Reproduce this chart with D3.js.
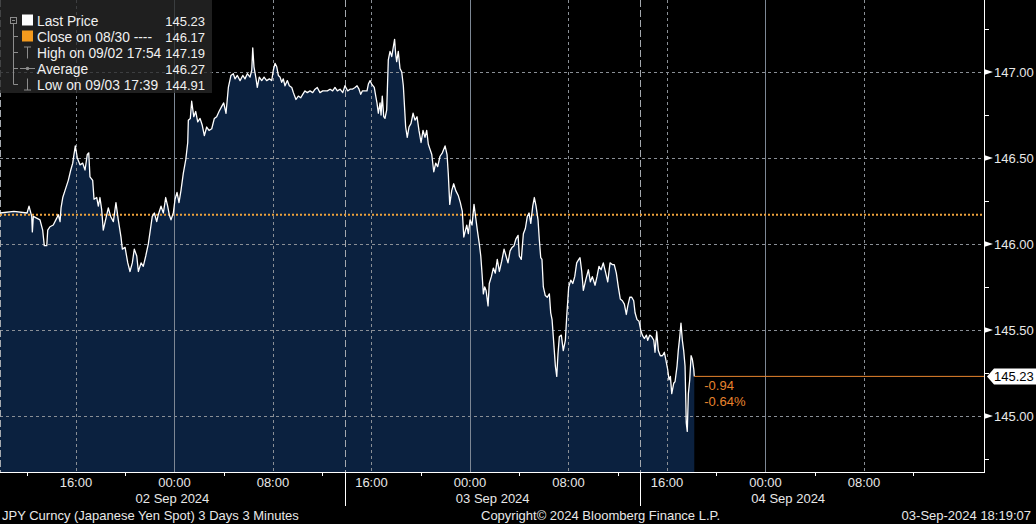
<!DOCTYPE html>
<html lang="en">
<head>
  <meta charset="UTF-8">
  <title>JPY Curncy - 3 Days</title>
  <script src="https://d3js.org/d3.v7.min.js"></script>
  <style>
    html, body { margin: 0; padding: 0; background: #000; overflow: hidden; }
    svg { display: block; font-family: "Liberation Sans", Arial, sans-serif; }
  </style>
</head>
<body>
  <div id="chart"></div>

  <script>
    // hours since 01 Sep 2024 00:00, 3 minute bars (sampled)
    const hours = [
      9.83, 10.97, 12.03, 12.19, 12.41, 12.46, 12.54, 12.81, 13.08, 13.30, 13.43, 13.63, 13.71, 13.89, 14.16, 14.44,
      14.57, 14.71, 14.79, 14.93, 15.11, 15.38, 15.58, 15.74, 15.84, 15.95, 16.11, 16.33, 16.55, 16.74, 16.92, 17.04,
      17.14, 17.36, 17.47, 17.69, 17.82, 17.95, 18.09, 18.22, 18.44, 18.63, 18.82, 19.04, 19.25, 19.44, 19.66, 19.77,
      19.99, 20.21, 20.39, 20.58, 20.74, 20.94, 21.07, 21.29, 21.47, 21.67, 21.88, 22.02, 22.20, 22.37, 22.56, 22.69,
      22.91, 23.10, 23.29, 23.45, 23.58, 23.72, 23.91, 24.05, 24.21, 24.37, 24.53, 24.72, 24.92, 25.08, 25.13, 25.29,
      25.40, 25.57, 25.73, 25.89, 26.08, 26.26, 26.43, 26.62, 26.81, 27.03, 27.24, 27.43, 27.62, 27.84, 28.00, 28.19,
      28.38, 28.59, 28.78, 28.92, 29.11, 29.33, 29.55, 29.73, 29.92, 30.14, 30.28, 30.36, 30.46, 30.63, 30.73, 30.89,
      31.09, 31.28, 31.49, 31.71, 31.90, 32.03, 32.17, 32.31, 32.44, 32.58, 32.71, 32.84, 32.98, 33.17, 33.33, 33.53,
      33.66, 33.87, 34.06, 34.26, 34.42, 34.60, 34.79, 35.01, 35.23, 35.42, 35.60, 35.82, 36.04, 36.23, 36.42, 36.64,
      36.85, 37.04, 37.23, 37.45, 37.67, 37.85, 38.07, 38.26, 38.45, 38.67, 38.83, 38.99, 39.13, 39.26, 39.48, 39.64,
      39.75, 39.89, 40.02, 40.23, 40.35, 40.45, 40.56, 40.70, 40.78, 40.88, 41.00, 41.10, 41.24, 41.37, 41.51, 41.65,
      41.88, 41.96, 42.05, 42.18, 42.32, 42.46, 42.59, 42.67, 42.78, 42.91, 43.05, 43.21, 43.38, 43.54, 43.70, 43.86,
      44.03, 44.19, 44.35, 44.49, 44.62, 44.76, 44.90, 45.06, 45.22, 45.38, 45.57, 45.76, 45.98, 46.14, 46.24, 46.36,
      46.52, 46.68, 46.85, 47.06, 47.22, 47.38, 47.50, 47.74, 47.87, 48.01, 48.17, 48.33, 48.44, 48.60, 48.76, 48.88,
      48.98, 49.09, 49.20, 49.31, 49.47, 49.57, 49.74, 49.90, 50.06, 50.22, 50.39, 50.58, 50.77, 50.93, 51.09, 51.26,
      51.42, 51.58, 51.74, 51.91, 52.01, 52.17, 52.34, 52.50, 52.66, 52.80, 52.94, 53.10, 53.23, 53.37, 53.53, 53.64,
      53.75, 53.85, 53.96, 54.12, 54.28, 54.45, 54.56, 54.67, 54.83, 54.94, 55.05, 55.15, 55.26, 55.42, 55.58, 55.75,
      55.86, 56.02, 56.19, 56.35, 56.51, 56.67, 56.84, 56.94, 57.08, 57.21, 57.40, 57.62, 57.78, 57.94, 58.16, 58.32,
      58.48, 58.65, 58.83, 59.03, 59.19, 59.38, 59.56, 59.72, 59.89, 60.05, 60.21, 60.38, 60.54, 60.70, 60.82, 60.98,
      61.14, 61.30, 61.41, 61.57, 61.73, 61.87, 62.00, 62.16, 62.33, 62.44, 62.60, 62.77, 62.93, 63.03, 63.17, 63.30,
      63.46, 63.63, 63.79, 63.90, 64.06, 64.17, 64.28, 64.39, 64.55, 64.66, 64.82, 64.92, 65.04, 65.14, 65.25, 65.36,
      65.47, 65.57, 65.65, 65.74, 65.85, 65.96, 66.06, 66.18, 66.22
    ];
    const prices = [
      146.18, 146.19, 146.18, 146.22, 146.16, 146.07, 146.16, 146.15, 146.14, 146.08, 145.99, 145.99, 146.08, 146.10, 146.11, 146.15,
      146.17, 146.13, 146.21, 146.27, 146.31, 146.37, 146.43, 146.47, 146.52, 146.57, 146.50, 146.46, 146.47, 146.43, 146.52, 146.53,
      146.39, 146.37, 146.26, 146.27, 146.22, 146.27, 146.20, 146.08, 146.15, 146.21, 146.16, 146.13, 146.24, 146.14, 146.04, 145.97,
      145.98, 145.89, 145.84, 145.89, 145.97, 145.93, 145.84, 145.89, 145.87, 145.93, 146.00, 146.07, 146.16, 146.18, 146.13, 146.17,
      146.22, 146.18, 146.27, 146.22, 146.17, 146.14, 146.18, 146.26, 146.30, 146.24, 146.31, 146.41, 146.49, 146.59, 146.72, 146.73,
      146.83, 146.74, 146.77, 146.71, 146.73, 146.69, 146.63, 146.68, 146.66, 146.67, 146.73, 146.74, 146.77, 146.80, 146.82, 146.76,
      146.91, 146.98, 146.99, 146.96, 146.98, 146.95, 146.98, 146.96, 146.99, 146.97, 147.01, 147.14, 147.03, 146.96, 146.91, 146.97,
      146.95, 146.97, 146.95, 146.96, 146.95, 147.01, 147.05, 147.03, 146.98, 146.97, 146.94, 146.96, 146.92, 146.95, 146.92, 146.91,
      146.88, 146.84, 146.86, 146.85, 146.87, 146.89, 146.88, 146.89, 146.88, 146.90, 146.91, 146.88, 146.89, 146.89, 146.89, 146.90,
      146.89, 146.91, 146.89, 146.90, 146.88, 146.92, 146.89, 146.90, 146.90, 146.91, 146.92, 146.90, 146.87, 146.89, 146.89, 146.89,
      146.93, 146.95, 146.93, 146.91, 146.86, 146.82, 146.76, 146.82, 146.75, 146.86, 146.74, 146.73, 146.78, 147.07, 147.12, 147.09,
      147.19, 147.11, 147.06, 147.12, 147.02, 147.00, 146.92, 146.82, 146.68, 146.62, 146.68, 146.70, 146.76, 146.72, 146.74, 146.66,
      146.59, 146.66, 146.62, 146.66, 146.58, 146.55, 146.52, 146.42, 146.47, 146.45, 146.51, 146.53, 146.57, 146.52, 146.41, 146.23,
      146.31, 146.35, 146.31, 146.28, 146.24, 146.19, 146.04, 146.11, 146.06, 146.14, 146.11, 146.23, 146.17, 146.08, 146.00, 145.93,
      145.83, 145.71, 145.75, 145.73, 145.64, 145.77, 145.81, 145.86, 145.83, 145.91, 145.84, 145.90, 145.97, 145.93, 145.89, 145.96,
      145.98, 145.99, 146.03, 146.05, 145.93, 145.91, 146.06, 146.09, 146.16, 146.18, 146.12, 146.22, 146.27, 146.22, 146.14, 146.02,
      145.92, 145.91, 145.75, 145.70, 145.69, 145.71, 145.60, 145.56, 145.40, 145.29, 145.23, 145.36, 145.46, 145.47, 145.38, 145.44,
      145.58, 145.75, 145.79, 145.77, 145.81, 145.89, 145.91, 145.92, 145.84, 145.73, 145.79, 145.85, 145.78, 145.81, 145.76, 145.81,
      145.87, 145.85, 145.89, 145.83, 145.78, 145.89, 145.88, 145.88, 145.83, 145.75, 145.68, 145.67, 145.65, 145.59, 145.64, 145.69,
      145.69, 145.67, 145.60, 145.56, 145.55, 145.50, 145.47, 145.45, 145.47, 145.44, 145.47, 145.46, 145.44, 145.37, 145.49, 145.38,
      145.35, 145.35, 145.37, 145.33, 145.27, 145.21, 145.23, 145.13, 145.19, 145.20, 145.29, 145.38, 145.46, 145.54, 145.44, 145.38,
      145.29, 144.96, 144.91, 145.13, 145.21, 145.35, 145.33, 145.27, 145.23
    ];

    const closePrice = 146.17;
    const lastPrice = 145.23;
    const netChange = -0.94;
    const pctChange = -0.64;

    const yTicks = [145.0, 145.5, 146.0, 146.5, 147.0];
    const yMinorTicks = [144.75, 145.25, 145.75, 146.25, 146.75, 147.25];
    const xTicks = [16, 24, 32, 40, 48, 56, 64, 72, 80];
    const xMinorTicks = [12, 20, 28, 36, 44, 52, 60, 68, 76, 84];
    const dayBreaks = [9.83, 37.85, 61.85];
    const dayLabels = ['02 Sep 2024', '03 Sep 2024', '04 Sep 2024'];

    const legendRows = [
      { label: 'Last Price', value: '145.23', icon: 'box', color: '#ffffff' },
      { label: 'Close on 08/30 ----', value: '146.17', icon: 'box', color: '#f39a1e' },
      { label: 'High on 09/02 17:54', value: '147.19', icon: 'high' },
      { label: 'Average', value: '146.27', icon: 'avg' },
      { label: 'Low on 09/03 17:39', value: '144.91', icon: 'low' }
    ];

    const footerLeft = 'JPY Curncy (Japanese Yen Spot) 3 Days 3 Minutes';
    const footerMid = 'Copyright\u00a9 2024 Bloomberg Finance L.P.';
    const footerRight = '03-Sep-2024 18:19:07';

    function render() {
      const W = 1036, H = 524;
      const plotR = 984, plotB = 472;
      const base = new Date(2024, 8, 1).getTime();
      const toDate = h => new Date(base + h * 3600000);

      const x = d3.scaleTime()
        .domain([toDate(9.833), toDate(89.75)])
        .range([0, plotR]);
      const y = d3.scaleLinear()
        .domain([144.674, 147.4186])
        .range([plotB, 0]);

      const data = hours.map((h, i) => ({ t: toDate(h), p: prices[i] }));

      const svg = d3.select('#chart').append('svg')
        .attr('width', W)
        .attr('height', H);

      svg.append('rect').attr('width', W).attr('height', H).attr('fill', '#000');

      // price area + line
      const area = d3.area().x(d => x(d.t)).y0(plotB).y1(d => y(d.p));
      const line = d3.line().x(d => x(d.t)).y(d => y(d.p));

      svg.append('path').datum(data)
        .attr('d', area)
        .attr('fill', '#0b213f');

      // horizontal grid
      svg.append('g').selectAll('line').data(yTicks).join('line')
        .attr('x1', 0).attr('x2', plotR)
        .attr('y1', d => Math.round(y(d)) + 0.5).attr('y2', d => Math.round(y(d)) + 0.5)
        .attr('stroke', '#8a8f96').attr('stroke-width', 1)
        .attr('stroke-dasharray', '3,3');

      // vertical grid, solid at midnight
      svg.append('g').selectAll('line').data(xTicks).join('line')
        .attr('x1', d => Math.round(x(toDate(d))) + 0.5).attr('x2', d => Math.round(x(toDate(d))) + 0.5)
        .attr('y1', 0).attr('y2', plotB)
        .attr('stroke', d => d % 24 === 0 ? '#7d8794' : '#8a8f96')
        .attr('stroke-width', 1)
        .attr('stroke-dasharray', d => d % 24 === 0 ? null : '3,3');

      // day separators
      svg.append('g').selectAll('line').data(dayBreaks).join('line')
        .attr('x1', d => Math.round(x(toDate(d))) + 0.5).attr('x2', d => Math.round(x(toDate(d))) + 0.5)
        .attr('y1', 0).attr('y2', plotB)
        .attr('stroke', '#a4a8ae').attr('stroke-width', 1)
        .attr('stroke-dasharray', '7,3');
      svg.append('g').selectAll('line').data(dayBreaks.slice(1)).join('line')
        .attr('x1', d => Math.round(x(toDate(d))) + 0.5).attr('x2', d => Math.round(x(toDate(d))) + 0.5)
        .attr('y1', plotB).attr('y2', 506)
        .attr('stroke', '#fff').attr('stroke-width', 1);

      // previous close, dotted
      svg.append('line')
        .attr('x1', 0).attr('x2', plotR)
        .attr('y1', y(closePrice)).attr('y2', y(closePrice))
        .attr('stroke', '#eda23c').attr('stroke-width', 2)
        .attr('stroke-dasharray', '2,2');

      svg.append('path').datum(data)
        .attr('d', line)
        .attr('fill', 'none')
        .attr('stroke', '#fff')
        .attr('stroke-width', 1.3)
        .attr('stroke-linejoin', 'round');

      // last price marker line
      const lastX = x(data[data.length - 1].t);
      svg.append('line')
        .attr('x1', lastX).attr('x2', plotR)
        .attr('y1', y(lastPrice)).attr('y2', y(lastPrice))
        .attr('stroke', '#e8842e').attr('stroke-width', 1);
      svg.append('text')
        .attr('x', lastX + 10).attr('y', y(lastPrice) + 14)
        .attr('fill', '#e8842e').attr('font-size', 13)
        .text(netChange.toFixed(2));
      svg.append('text')
        .attr('x', lastX + 10).attr('y', y(lastPrice) + 30)
        .attr('fill', '#e8842e').attr('font-size', 13)
        .text(pctChange.toFixed(2) + '%');

      // axes lines
      svg.append('line').attr('x1', 0).attr('x2', plotR + 0.5)
        .attr('y1', plotB + 0.5).attr('y2', plotB + 0.5)
        .attr('stroke', '#fff');
      svg.append('line').attr('x1', plotR + 0.5).attr('x2', plotR + 0.5)
        .attr('y1', 0).attr('y2', plotB + 1)
        .attr('stroke', '#fff');

      // right axis
      const yAxis = svg.append('g');
      yAxis.selectAll('line.minor').data(yMinorTicks).join('line')
        .attr('class', 'minor')
        .attr('x1', plotR).attr('x2', plotR + 5)
        .attr('y1', d => Math.round(y(d)) + 0.5).attr('y2', d => Math.round(y(d)) + 0.5)
        .attr('stroke', '#fff');
      yAxis.selectAll('path.mark').data(yTicks).join('path')
        .attr('class', 'mark')
        .attr('d', d => `M${plotR},${y(d) - 3}L${plotR + 9},${y(d)}L${plotR},${y(d) + 3}Z`)
        .attr('fill', '#fff');
      yAxis.selectAll('text').data(yTicks).join('text')
        .attr('x', plotR + 10).attr('y', d => y(d))
        .attr('dy', '0.36em')
        .attr('fill', '#e8e8e8').attr('font-size', 13)
        .text(d => d.toFixed(2));

      // last price tag
      const ly = y(lastPrice);
      svg.append('path')
        .attr('d', `M${plotR + 3},${ly}L${plotR + 10},${ly - 8}L${W},${ly - 8}L${W},${ly + 8}L${plotR + 10},${ly + 8}Z`)
        .attr('fill', '#fff');
      svg.append('text')
        .attr('x', plotR + 10).attr('y', ly).attr('dy', '0.36em')
        .attr('fill', '#000').attr('font-size', 13)
        .text(lastPrice.toFixed(2));

      // bottom axis
      const fmt = d3.timeFormat('%H:%M');
      svg.append('g').selectAll('line').data(xMinorTicks).join('line')
        .attr('x1', d => Math.round(x(toDate(d))) + 0.5).attr('x2', d => Math.round(x(toDate(d))) + 0.5)
        .attr('y1', plotB).attr('y2', plotB + 4)
        .attr('stroke', '#fff');
      svg.append('g').selectAll('text').data(xTicks).join('text')
        .attr('x', d => x(toDate(d))).attr('y', 487)
        .attr('text-anchor', 'middle')
        .attr('fill', '#e8e8e8').attr('font-size', 13)
        .text(d => fmt(toDate(d)));
      svg.append('g').selectAll('text').data(dayLabels).join('text')
        .attr('x', (d, i) => (x(toDate(dayBreaks[i])) + x(toDate(dayBreaks[i] + (i === 0 ? 28.02 : 24)))) / 2)
        .attr('y', 503)
        .attr('text-anchor', 'middle')
        .attr('fill', '#e8e8e8').attr('font-size', 13)
        .text(d => d);

      // footer
      svg.append('text').attr('x', 2).attr('y', 520)
        .attr('fill', '#e8e8e8').attr('font-size', 13).text(footerLeft);
      svg.append('text').attr('x', 481).attr('y', 520)
        .attr('fill', '#e8e8e8').attr('font-size', 13).text(footerMid);
      svg.append('text').attr('x', 1031).attr('y', 520)
        .attr('text-anchor', 'end')
        .attr('fill', '#e8e8e8').attr('font-size', 13).text(footerRight);

      // legend box
      const lg = svg.append('g');
      lg.append('rect')
        .attr('x', 0).attr('y', 0).attr('width', 212).attr('height', 93)
        .attr('fill', 'rgba(40,40,40,0.78)');

      const rowY = i => 20.5 + i * 16;
      const grey = '#8c8c8c';
      lg.append('rect').attr('x', 10.5).attr('y', 17.5).attr('width', 6).attr('height', 6)
        .attr('fill', 'none').attr('stroke', grey);
      lg.append('line').attr('x1', 12).attr('x2', 15).attr('y1', 20.5).attr('y2', 20.5).attr('stroke', grey);
      lg.append('line').attr('x1', 13.5).attr('x2', 13.5).attr('y1', 24).attr('y2', rowY(4))
        .attr('stroke', grey);

      legendRows.forEach((r, i) => {
        const cy = rowY(i);
        const g = lg.append('g');
        if (i > 0) {
          g.append('line').attr('x1', 13.5).attr('x2', 18).attr('y1', cy).attr('y2', cy).attr('stroke', grey);
        }
        if (r.icon === 'box') {
          g.append('rect').attr('x', 22).attr('y', cy - 6).attr('width', 11).attr('height', 11).attr('fill', r.color);
        } else if (r.icon === 'high') {
          g.append('line').attr('x1', 24).attr('x2', 31).attr('y1', cy - 5.5).attr('y2', cy - 5.5).attr('stroke', grey);
          g.append('line').attr('x1', 27.5).attr('x2', 27.5).attr('y1', cy - 5.5).attr('y2', cy + 6).attr('stroke', grey);
        } else if (r.icon === 'avg') {
          g.append('line').attr('x1', 20).attr('x2', 35).attr('y1', cy).attr('y2', cy).attr('stroke', grey);
          g.append('circle').attr('cx', 27.5).attr('cy', cy).attr('r', 1.8).attr('fill', grey);
        } else if (r.icon === 'low') {
          g.append('line').attr('x1', 27.5).attr('x2', 27.5).attr('y1', cy - 6).attr('y2', cy + 5.5).attr('stroke', grey);
          g.append('line').attr('x1', 24).attr('x2', 31).attr('y1', cy + 5.5).attr('y2', cy + 5.5).attr('stroke', grey);
        }
        g.append('text').attr('x', 37).attr('y', cy + 5)
          .attr('fill', '#f0f0f0').attr('font-size', 13.8).text(r.label);
        g.append('text').attr('x', 205).attr('y', cy + 5)
          .attr('text-anchor', 'end')
          .attr('fill', '#f0f0f0').attr('font-size', 13).text(r.value);
      });
    }

    document.addEventListener('DOMContentLoaded', render);
  </script>
</body>
</html>
